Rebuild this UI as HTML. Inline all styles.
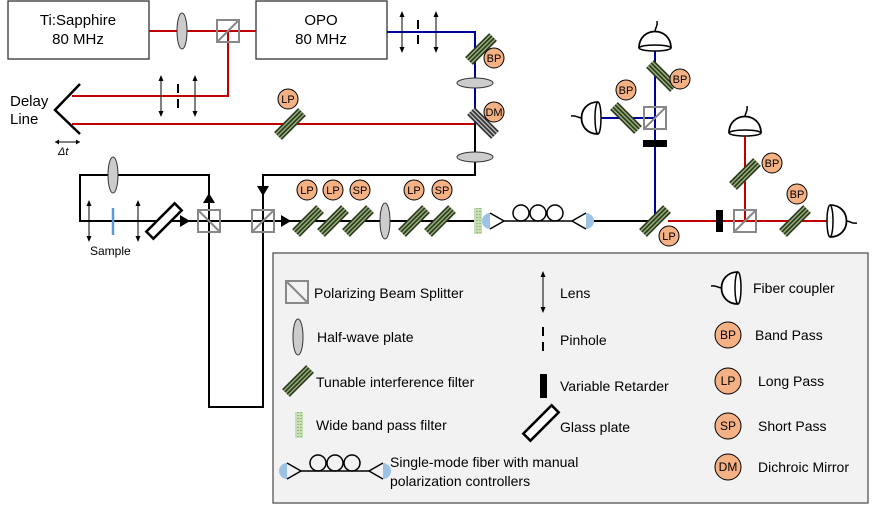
<!DOCTYPE html>
<html><head><meta charset="utf-8"><style>
html,body{margin:0;padding:0;background:#fff}
svg{display:block;font-family:"Liberation Sans",Arial,sans-serif}
</style></head><body>
<svg width="872" height="505" viewBox="0 0 872 505" xmlns="http://www.w3.org/2000/svg">
<defs>
<g id="filt"><g transform="rotate(-45)">
<rect x="-17" y="-5.5" width="34" height="11" fill="#2b3b1f"/>
<rect x="-17" y="-3.8" width="34" height="1.4" fill="#9bb07c"/>
<rect x="-17" y="-0.7" width="34" height="1.4" fill="#9bb07c"/>
<rect x="-17" y="2.4" width="34" height="1.4" fill="#9bb07c"/>
</g></g>
<g id="dmf"><g transform="rotate(45)">
<rect x="-17" y="-5.5" width="34" height="11" fill="#333"/>
<rect x="-17" y="-3.8" width="34" height="1.4" fill="#bbb"/>
<rect x="-17" y="-0.7" width="34" height="1.4" fill="#bbb"/>
<rect x="-17" y="2.4" width="34" height="1.4" fill="#bbb"/>
</g></g>
<g id="pbs"><rect x="-11" y="-11" width="22" height="22" fill="none" stroke="#888" stroke-width="2"/><line x1="-11" y1="11" x2="11" y2="-11" stroke="#888" stroke-width="2"/></g>
<g id="pbs2"><rect x="-11" y="-11" width="22" height="22" fill="none" stroke="#888" stroke-width="2"/><line x1="-11" y1="-11" x2="11" y2="11" stroke="#888" stroke-width="2"/></g>
<g id="hwpv"><ellipse cx="0" cy="0" rx="5" ry="18" fill="#ccc" stroke="#333" stroke-width="1"/></g>
<g id="hwph"><ellipse cx="0" cy="0" rx="18" ry="5" fill="#ccc" stroke="#333" stroke-width="1"/></g>
<g id="lens"><line x1="0" y1="-19" x2="0" y2="19" stroke="#000" stroke-width="1"/><path d="M-2.5,-15 L0,-21 L2.5,-15Z M-2.5,15 L0,21 L2.5,15Z" fill="#000"/></g>
<g id="pin"><line x1="0" y1="-12" x2="0" y2="-3" stroke="#000" stroke-width="2"/><line x1="0" y1="3" x2="0" y2="12" stroke="#000" stroke-width="2"/></g>
<g id="det"><path d="M-16,0 C-16,-22 16,-22 16,0" fill="#fff" stroke="#000" stroke-width="1.8"/><ellipse cx="0" cy="0" rx="16" ry="3" fill="#fff" stroke="#000" stroke-width="1.5"/><path d="M0,-16 C0,-21 3,-21 2,-27" fill="none" stroke="#000" stroke-width="1.5"/></g>
<g id="fiber"><path d="M0,-8 A8,8 0 0 0 0,8 Z" fill="#9cc3e6"/><path d="M0,-8 L14,0 L0,8" fill="none" stroke="#000" stroke-width="1.5"/>
<line x1="14" y1="0" x2="82" y2="0" stroke="#000" stroke-width="1.5"/>
<circle cx="31" cy="-8" r="8" fill="none" stroke="#000" stroke-width="1.5"/><circle cx="48" cy="-8" r="8" fill="none" stroke="#000" stroke-width="1.5"/><circle cx="65" cy="-8" r="8" fill="none" stroke="#000" stroke-width="1.5"/>
<path d="M96,-8 L82,0 L96,8" fill="none" stroke="#000" stroke-width="1.5"/><path d="M96,-8 A8,8 0 0 1 96,8 Z" fill="#9cc3e6"/></g>
<g id="gp"><rect x="-20" y="-5" width="40" height="10" fill="#fff" stroke="#000" stroke-width="2.5" transform="rotate(-45)"/></g>
<g id="wb"><rect x="-4" y="-13" width="8" height="26" fill="#c6e0b4"/><line x1="-1" y1="-13" x2="-1" y2="13" stroke="#6a8f5a" stroke-width="1" stroke-dasharray="1,2"/><line x1="2" y1="-13" x2="2" y2="13" stroke="#6a8f5a" stroke-width="1" stroke-dasharray="1,2"/></g>
</defs>

<rect x="8" y="1" width="141" height="58" fill="#fff" stroke="#333" stroke-width="1.3"/>
<text x="78" y="25" font-size="15" text-anchor="middle">Ti:Sapphire</text>
<text x="78" y="44" font-size="15" text-anchor="middle">80 MHz</text>
<rect x="256" y="1" width="131" height="58" fill="#fff" stroke="#333" stroke-width="1.3"/>
<text x="321" y="25" font-size="15" text-anchor="middle">OPO</text>
<text x="321" y="44" font-size="15" text-anchor="middle">80 MHz</text>

<g stroke="#c00000" stroke-width="2" fill="none">
<line x1="149" y1="31" x2="256" y2="31"/>
<polyline points="228,31 228,96 72,96"/>
<line x1="72" y1="124" x2="475" y2="124"/>
<line x1="668" y1="221" x2="830" y2="221"/>
<line x1="745" y1="221" x2="745" y2="133"/>
</g>
<g stroke="#00009a" stroke-width="2" fill="none">
<polyline points="387,32 475,32 475,124"/>
<line x1="655" y1="221" x2="655" y2="48"/>
<line x1="598" y1="118" x2="655" y2="118"/>
</g>
<g stroke="#000" stroke-width="2" fill="none">
<polyline points="475,124 475,175 263,175 263,407 209,407 209,175 80,175 80,221 482,221"/>
<line x1="590" y1="221" x2="655" y2="221"/>
</g>
<path d="M203,203 L209,193 L215,203Z M257,186 L263,196 L269,186Z M180,215 L190,221 L180,227Z M281,215 L291,221 L281,227Z" fill="#000"/>

<use href="#hwpv" x="182" y="31"/>
<use href="#pbs" x="228" y="31"/>
<use href="#lens" x="402" y="32"/><use href="#pin" x="418" y="32"/><use href="#lens" x="436" y="32"/>
<use href="#filt" x="481" y="49"/>
<use href="#hwph" x="475" y="83"/>
<use href="#dmf" x="483" y="123"/>
<use href="#hwph" x="475" y="157"/>
<use href="#lens" x="161" y="96"/><use href="#pin" x="178" y="96"/><use href="#lens" x="195" y="96"/>
<use href="#filt" x="290" y="124"/>
<polyline points="80,84 55,110 80,134" fill="none" stroke="#000" stroke-width="2.5"/>
<text x="10" y="106" font-size="15">Delay</text>
<text x="10" y="124" font-size="15">Line</text>
<line x1="55" y1="142" x2="80" y2="142" stroke="#000" stroke-width="1"/>
<path d="M55,142 l4,-2.5 v5Z M80,142 l-4,-2.5 v5Z" fill="#000"/>
<text x="58" y="155" font-size="11" font-style="italic">Δt</text>

<use href="#hwpv" x="113" y="175"/>
<use href="#lens" x="89" y="221"/><use href="#lens" x="138" y="221"/>
<line x1="113" y1="208" x2="113" y2="235" stroke="#5b9bd5" stroke-width="2.5"/>
<text x="90" y="255" font-size="12">Sample</text>
<use href="#gp" x="164" y="221"/>
<use href="#pbs2" x="209" y="221"/>
<use href="#pbs" x="263" y="221"/>
<use href="#filt" x="308" y="221"/><use href="#filt" x="333" y="221"/><use href="#filt" x="358" y="221"/>
<use href="#hwpv" x="385" y="221"/>
<use href="#filt" x="414" y="221"/><use href="#filt" x="440" y="221"/>
<use href="#wb" x="478" y="221"/>
<use href="#fiber" x="490" y="221"/>

<use href="#filt" x="655" y="221"/>
<use href="#pbs" x="655" y="118"/>
<rect x="643" y="140" width="24" height="7" fill="#000"/>
<use href="#filt" x="662" y="76" transform="rotate(90 662 76)"/>
<use href="#filt" x="626" y="118" transform="rotate(90 626 118)"/>
<use href="#det" x="655" y="48"/>
<use href="#det" x="598" y="118" transform="rotate(-90 598 118)"/>
<rect x="716" y="210" width="7" height="22" fill="#000"/>
<use href="#pbs" x="745" y="221"/>
<use href="#filt" x="745" y="174"/>
<use href="#filt" x="795" y="221"/>
<use href="#det" x="745" y="133"/>
<use href="#det" x="830" y="221" transform="rotate(90 830 221)"/>

<g font-size="11" text-anchor="middle">
<g fill="#f4b183" stroke="#000" stroke-width="1">
<circle cx="494" cy="58" r="10"/><circle cx="494" cy="112" r="10"/><circle cx="288" cy="99" r="10"/>
<circle cx="307" cy="190" r="10"/><circle cx="333" cy="190" r="10"/><circle cx="360" cy="190" r="10"/>
<circle cx="414" cy="190" r="10"/><circle cx="442" cy="190" r="10"/>
<circle cx="680" cy="79" r="10"/><circle cx="626" cy="90" r="10"/><circle cx="669" cy="236" r="10"/>
<circle cx="772" cy="163" r="10"/><circle cx="797" cy="194" r="10"/>
</g>
<text x="494" y="62">BP</text><text x="494" y="116">DM</text><text x="288" y="103">LP</text>
<text x="307" y="194">LP</text><text x="333" y="194">LP</text><text x="360" y="194">SP</text>
<text x="414" y="194">LP</text><text x="442" y="194">SP</text>
<text x="680" y="83">BP</text><text x="626" y="94">BP</text><text x="669" y="240">LP</text>
<text x="772" y="167">BP</text><text x="797" y="198">BP</text>
</g>

<rect x="273" y="253" width="595" height="250" fill="#f2f2f2" stroke="#555" stroke-width="1.3"/>
<g font-size="14">
<use href="#pbs2" x="297" y="292"/>
<text x="314" y="298">Polarizing Beam Splitter</text>
<use href="#hwpv" x="298" y="337"/>
<text x="317" y="342">Half-wave plate</text>
<use href="#filt" x="298" y="381"/>
<text x="316" y="387">Tunable interference filter</text>
<use href="#wb" x="299" y="425"/>
<text x="316" y="430">Wide band pass filter</text>
<use href="#fiber" x="287" y="471"/>
<text x="390" y="467">Single-mode fiber with manual</text>
<text x="390" y="486">polarization controllers</text>
<use href="#lens" x="543" y="292"/>
<text x="560" y="298">Lens</text>
<use href="#pin" x="543" y="339"/>
<text x="560" y="345">Pinhole</text>
<rect x="540" y="374" width="7" height="24" fill="#000"/>
<text x="560" y="391">Variable Retarder</text>
<use href="#gp" x="541" y="423"/>
<text x="560" y="432">Glass plate</text>
<use href="#det" x="738" y="288" transform="rotate(-90 738 288)"/>
<text x="753" y="293">Fiber coupler</text>
<text x="755" y="340">Band Pass</text>
<text x="758" y="386">Long Pass</text>
<text x="758" y="431">Short Pass</text>
<text x="758" y="472">Dichroic Mirror</text>
</g>
<g font-size="12" text-anchor="middle">
<g fill="#f4b183" stroke="#000" stroke-width="1">
<circle cx="728" cy="335" r="13"/><circle cx="728" cy="381" r="13"/><circle cx="728" cy="426" r="13"/><circle cx="728" cy="467" r="13"/>
</g>
<text x="728" y="339">BP</text><text x="728" y="385">LP</text><text x="728" y="430">SP</text><text x="728" y="471">DM</text>
</g>
</svg>
</body></html>
